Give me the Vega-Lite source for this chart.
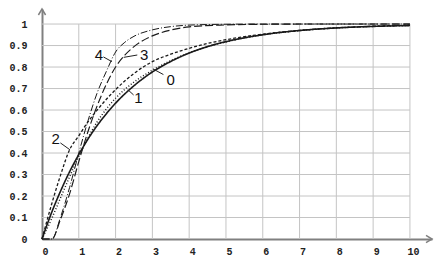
{
  "$schema": "https://vega.github.io/schema/vega-lite/v6.json",
  "autosize": {"type": "none"},
  "padding": {"left": 42, "top": 9, "right": 6, "bottom": 22},
  "width": 390,
  "height": 230,
  "background": "white",
  "config": {"view": {"stroke": null}},
  "datasets": {
    "grid": [
      {"x": 1, "y": 0, "x2": 1, "y2": 1}, {"x": 2, "y": 0, "x2": 2, "y2": 1},
      {"x": 3, "y": 0, "x2": 3, "y2": 1}, {"x": 4, "y": 0, "x2": 4, "y2": 1},
      {"x": 5, "y": 0, "x2": 5, "y2": 1}, {"x": 6, "y": 0, "x2": 6, "y2": 1},
      {"x": 7, "y": 0, "x2": 7, "y2": 1}, {"x": 8, "y": 0, "x2": 8, "y2": 1},
      {"x": 9, "y": 0, "x2": 9, "y2": 1}, {"x": 10, "y": 0, "x2": 10, "y2": 1},
      {"x": 0, "y": 0.1, "x2": 10, "y2": 0.1}, {"x": 0, "y": 0.2, "x2": 10, "y2": 0.2},
      {"x": 0, "y": 0.3, "x2": 10, "y2": 0.3}, {"x": 0, "y": 0.4, "x2": 10, "y2": 0.4},
      {"x": 0, "y": 0.5, "x2": 10, "y2": 0.5}, {"x": 0, "y": 0.6, "x2": 10, "y2": 0.6},
      {"x": 0, "y": 0.7, "x2": 10, "y2": 0.7}, {"x": 0, "y": 0.8, "x2": 10, "y2": 0.8},
      {"x": 0, "y": 0.9, "x2": 10, "y2": 0.9}, {"x": 0, "y": 1, "x2": 10, "y2": 1}
    ],
    "curves": [
      {"c": "0", "x": 0, "y": 0}, {"c": "0", "x": 0.25, "y": 0.118}, {"c": "0", "x": 0.5, "y": 0.221},
      {"c": "0", "x": 0.75, "y": 0.313}, {"c": "0", "x": 1, "y": 0.393}, {"c": "0", "x": 1.25, "y": 0.465},
      {"c": "0", "x": 1.5, "y": 0.528}, {"c": "0", "x": 1.75, "y": 0.583}, {"c": "0", "x": 2, "y": 0.632},
      {"c": "0", "x": 2.5, "y": 0.713}, {"c": "0", "x": 3, "y": 0.777}, {"c": "0", "x": 3.5, "y": 0.826},
      {"c": "0", "x": 4, "y": 0.865}, {"c": "0", "x": 4.5, "y": 0.895}, {"c": "0", "x": 5, "y": 0.918},
      {"c": "0", "x": 6, "y": 0.95}, {"c": "0", "x": 7, "y": 0.97}, {"c": "0", "x": 8, "y": 0.982},
      {"c": "0", "x": 9, "y": 0.989}, {"c": "0", "x": 10, "y": 0.993},

      {"c": "1", "x": 0, "y": 0}, {"c": "1", "x": 0.25, "y": 0.09}, {"c": "1", "x": 0.5, "y": 0.19},
      {"c": "1", "x": 0.75, "y": 0.29}, {"c": "1", "x": 1, "y": 0.385}, {"c": "1", "x": 1.25, "y": 0.47},
      {"c": "1", "x": 1.5, "y": 0.545}, {"c": "1", "x": 1.75, "y": 0.605}, {"c": "1", "x": 2, "y": 0.655},
      {"c": "1", "x": 2.5, "y": 0.73}, {"c": "1", "x": 3, "y": 0.785}, {"c": "1", "x": 3.5, "y": 0.83},
      {"c": "1", "x": 4, "y": 0.866}, {"c": "1", "x": 4.5, "y": 0.895}, {"c": "1", "x": 5, "y": 0.917},
      {"c": "1", "x": 6, "y": 0.95}, {"c": "1", "x": 7, "y": 0.97}, {"c": "1", "x": 8, "y": 0.982},
      {"c": "1", "x": 9, "y": 0.989}, {"c": "1", "x": 10, "y": 0.993},

      {"c": "2", "x": 0, "y": 0}, {"c": "2", "x": 0.25, "y": 0.155}, {"c": "2", "x": 0.5, "y": 0.295},
      {"c": "2", "x": 0.75, "y": 0.415}, {"c": "2", "x": 1, "y": 0.48}, {"c": "2", "x": 1.25, "y": 0.545},
      {"c": "2", "x": 1.5, "y": 0.6}, {"c": "2", "x": 1.75, "y": 0.65}, {"c": "2", "x": 2, "y": 0.695},
      {"c": "2", "x": 2.5, "y": 0.77}, {"c": "2", "x": 3, "y": 0.825}, {"c": "2", "x": 3.5, "y": 0.86},
      {"c": "2", "x": 4, "y": 0.887}, {"c": "2", "x": 4.5, "y": 0.91}, {"c": "2", "x": 5, "y": 0.927},
      {"c": "2", "x": 6, "y": 0.953}, {"c": "2", "x": 7, "y": 0.97}, {"c": "2", "x": 8, "y": 0.982},
      {"c": "2", "x": 9, "y": 0.99}, {"c": "2", "x": 10, "y": 0.995},

      {"c": "3", "x": 0, "y": 0}, {"c": "3", "x": 0.27, "y": 0}, {"c": "3", "x": 0.5, "y": 0.09},
      {"c": "3", "x": 0.75, "y": 0.21}, {"c": "3", "x": 1, "y": 0.36}, {"c": "3", "x": 1.25, "y": 0.5},
      {"c": "3", "x": 1.5, "y": 0.62}, {"c": "3", "x": 1.75, "y": 0.72}, {"c": "3", "x": 2, "y": 0.8},
      {"c": "3", "x": 2.25, "y": 0.855}, {"c": "3", "x": 2.5, "y": 0.895}, {"c": "3", "x": 3, "y": 0.945},
      {"c": "3", "x": 3.5, "y": 0.972}, {"c": "3", "x": 4, "y": 0.987}, {"c": "3", "x": 5, "y": 0.996},
      {"c": "3", "x": 6, "y": 0.999}, {"c": "3", "x": 7, "y": 1}, {"c": "3", "x": 8, "y": 1},
      {"c": "3", "x": 9, "y": 1}, {"c": "3", "x": 10, "y": 1},

      {"c": "4", "x": 0, "y": 0}, {"c": "4", "x": 0.27, "y": 0}, {"c": "4", "x": 0.5, "y": 0.1},
      {"c": "4", "x": 0.75, "y": 0.24}, {"c": "4", "x": 1, "y": 0.4}, {"c": "4", "x": 1.25, "y": 0.55},
      {"c": "4", "x": 1.5, "y": 0.68}, {"c": "4", "x": 1.75, "y": 0.78}, {"c": "4", "x": 2, "y": 0.87},
      {"c": "4", "x": 2.25, "y": 0.915}, {"c": "4", "x": 2.5, "y": 0.943}, {"c": "4", "x": 3, "y": 0.973},
      {"c": "4", "x": 3.5, "y": 0.988}, {"c": "4", "x": 4, "y": 0.995}, {"c": "4", "x": 5, "y": 0.999},
      {"c": "4", "x": 6, "y": 1}, {"c": "4", "x": 7, "y": 1}, {"c": "4", "x": 8, "y": 1},
      {"c": "4", "x": 9, "y": 1}, {"c": "4", "x": 10, "y": 1}
    ],
    "leaders": [
      {"x": 3.3, "y": 0.765, "x2": 3.03, "y2": 0.79},
      {"x": 2.49, "y": 0.67, "x2": 2.33, "y2": 0.695},
      {"x": 0.5, "y": 0.447, "x2": 0.76, "y2": 0.415},
      {"x": 2.59, "y": 0.856, "x2": 2.22, "y2": 0.845},
      {"x": 1.67, "y": 0.847, "x2": 1.9, "y2": 0.825}
    ],
    "labels": [
      {"t": "0", "x": 3.5, "y": 0.74},
      {"t": "1", "x": 2.62, "y": 0.656},
      {"t": "2", "x": 0.37, "y": 0.465},
      {"t": "3", "x": 2.78, "y": 0.857},
      {"t": "4", "x": 1.55, "y": 0.857}
    ],
    "arrows": [
      {"x": 10.6, "y": 0, "a": 0},
      {"x": 0, "y": 1.07, "a": 270}
    ]
  },
  "encoding": {
    "x": {
      "field": "x", "type": "quantitative",
      "scale": {"domain": [0, 10.6], "nice": false, "zero": false},
      "axis": {
        "title": null, "grid": false, "ticks": false, "tickSize": 0,
        "values": [0, 1, 2, 3, 4, 5, 6, 7, 8, 9, 10],
        "domainColor": "#808080", "domainWidth": 2,
        "labelFont": "Liberation Mono", "labelFontWeight": "bold", "labelFontSize": 10,
        "labelColor": "#222", "labelPadding": 7, "labelOffset": 3, "labelFlush": false
      }
    },
    "y": {
      "field": "y", "type": "quantitative",
      "scale": {"domain": [0, 1.07], "nice": false, "zero": false},
      "axis": {
        "title": null, "grid": false, "ticks": false, "tickSize": 0,
        "values": [0, 0.1, 0.2, 0.3, 0.4, 0.5, 0.6, 0.7, 0.8, 0.9, 1],
        "format": "~g",
        "domainColor": "#808080", "domainWidth": 2,
        "labelFont": "Liberation Mono", "labelFontWeight": "bold", "labelFontSize": 10,
        "labelColor": "#222", "labelPadding": 15, "labelFlush": false
      }
    }
  },
  "layer": [
    {
      "data": {"name": "grid"},
      "mark": {"type": "rule", "color": "#c4c4c4", "strokeWidth": 1},
      "encoding": {
        "x2": {"field": "x2"},
        "y2": {"field": "y2"}
      }
    },
    {
      "data": {"name": "curves"},
      "mark": {"type": "line", "interpolate": "monotone", "color": "#1a1a1a"},
      "encoding": {
        "strokeDash": {
          "field": "c", "type": "nominal",
          "scale": {"domain": ["0", "1", "2", "3", "4"], "range": [[1, 0], [1, 2], [3, 2], [8, 3], [7, 2, 1, 2]]},
          "legend": null
        },
        "strokeWidth": {
          "field": "c", "type": "nominal",
          "scale": {"domain": ["0", "1", "2", "3", "4"], "range": [1.6, 1, 1.1, 1.1, 1.1]},
          "legend": null
        }
      }
    },
    {
      "data": {"name": "leaders"},
      "mark": {"type": "rule", "color": "#222", "strokeWidth": 1},
      "encoding": {
        "x2": {"field": "x2"},
        "y2": {"field": "y2"}
      }
    },
    {
      "data": {"name": "labels"},
      "mark": {"type": "text", "font": "Liberation Sans Narrow, Liberation Sans", "fontSize": 15, "color": "#111", "align": "center", "baseline": "middle"},
      "encoding": {
        "text": {"field": "t"}
      }
    },
    {
      "data": {"name": "arrows"},
      "mark": {"type": "point", "shape": "M-1,-0.6L0,0L-1,0.6", "filled": false, "size": 144, "color": "#808080", "strokeWidth": 1.5, "opacity": 1},
      "encoding": {
        "angle": {"field": "a", "type": "quantitative", "scale": null}
      }
    }
  ]
}
